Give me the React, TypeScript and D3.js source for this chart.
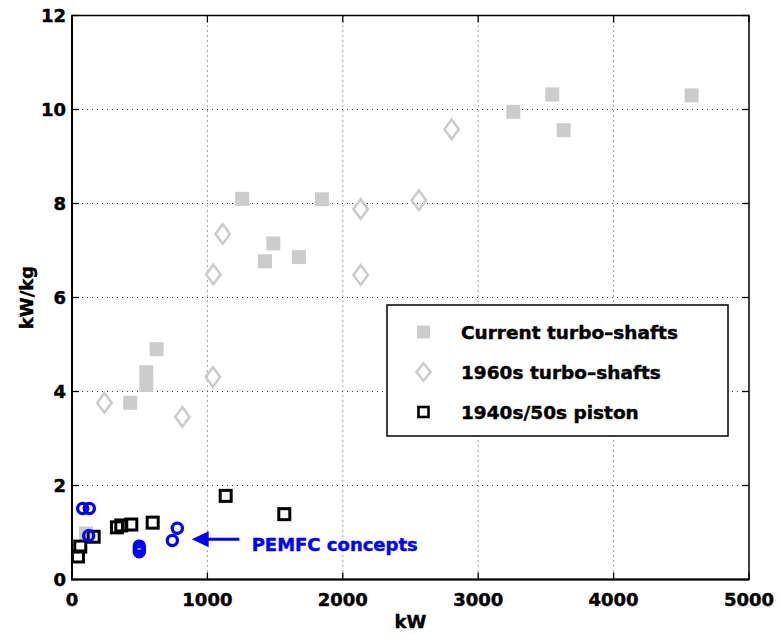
import { useEffect, useRef } from 'react'
import * as d3 from 'd3'

// [kW, kW/kg]
const currentTurboShafts: [number, number][] = [
    [103, 0.98], [430, 3.76], [549, 4.14], [549, 4.41], [625, 4.9],
    [1257, 8.1], [1425, 6.77], [1487, 7.15], [1676, 6.86], [1846, 8.09],
    [3259, 9.95], [3547, 10.32], [3631, 9.56], [4576, 10.3]
]
const turboShafts1960s: [number, number][] = [
    [239, 3.76], [815, 3.46], [1041, 4.31], [1044, 6.49], [1113, 7.35],
    [2132, 7.88], [2132, 6.48], [2562, 8.07], [2804, 9.58]
]
const piston1940s: [number, number][] = [
    [44, 0.49], [61, 0.7], [160, 0.91], [332, 1.11], [364, 1.15],
    [438, 1.17], [596, 1.21], [1135, 1.78], [1568, 1.39]
]
const pemfcConcepts: [number, number][] = [
    [79, 1.51], [128, 1.51], [123, 0.93], [497, 0.71], [497, 0.65],
    [497, 0.59], [741, 0.83], [778, 1.09]
]
const xTicks = [0, 1000, 2000, 3000, 4000, 5000]
const yTicks = [0, 2, 4, 6, 8, 10, 12]
const legendLabels = ['Current turbo\u2013shafts', '1960s turbo\u2013shafts', '1940s/50s piston']
// annotation: arrow from/to and label position, data units
const arrowFrom: [number, number] = [1236, 0.855]
const arrowTo: [number, number] = [884, 0.855]
const pemfcLabel = { text: 'PEMFC concepts', x: 1327, y: 0.61 }

const W = 779
const H = 634
const FONT = '"DejaVu Sans", sans-serif'

export default function App() {
    const svgRef = useRef<SVGSVGElement>(null)

    useEffect(() => {
        if (!svgRef.current) return
        const svg = d3.select(svgRef.current)
        svg.selectAll('*').remove()

        const left = 72, right = 749, top = 15.5, bottom = 579.5
        const x = d3.scaleLinear().domain([0, 5000]).range([left, right])
        const y = d3.scaleLinear().domain([0, 12]).range([bottom, top])

        svg.append('rect').attr('width', W).attr('height', H).attr('fill', 'white')

        // bold text, a bit heavier like the original renderer
        const label = (g: d3.Selection<any, any, any, any>, color = 'black') =>
            g.style('font-family', FONT).style('font-weight', 'bold').style('font-size', '18px')
                .attr('fill', color).attr('stroke', color).attr('stroke-width', 0.45)

        // grid
        const grid = svg.append('g')
            .attr('stroke', '#444')
            .attr('stroke-width', 1)
            .attr('stroke-dasharray', '1,4')
        grid.selectAll('.gx')
            .data(xTicks.slice(1, -1))
            .enter()
            .append('line')
            .attr('x1', d => x(d)).attr('x2', d => x(d))
            .attr('y1', top).attr('y2', bottom)
        grid.selectAll('.gy')
            .data(yTicks.slice(1, -1))
            .enter()
            .append('line')
            .attr('x1', left).attr('x2', right)
            .attr('y1', d => y(d)).attr('y2', d => y(d))

        // ticks (inside, all four sides)
        const ticks = svg.append('g').attr('stroke', 'black').attr('stroke-width', 1.3)
        xTicks.forEach(t => {
            ticks.append('line').attr('x1', x(t)).attr('x2', x(t)).attr('y1', bottom).attr('y2', bottom - 7)
            ticks.append('line').attr('x1', x(t)).attr('x2', x(t)).attr('y1', top).attr('y2', top + 7)
        })
        yTicks.forEach(t => {
            ticks.append('line').attr('x1', left).attr('x2', left + 7).attr('y1', y(t)).attr('y2', y(t))
            ticks.append('line').attr('x1', right).attr('x2', right - 7).attr('y1', y(t)).attr('y2', y(t))
        })

        // box
        svg.append('rect')
            .attr('x', left).attr('y', top)
            .attr('width', right - left).attr('height', bottom - top)
            .attr('fill', 'none').attr('stroke', 'black').attr('stroke-width', 1.5)
        svg.append('path')
            .attr('d', `M${left},${top}V${bottom}H${right}`)
            .attr('fill', 'none').attr('stroke', 'black').attr('stroke-width', 2)

        // tick labels
        label(svg.append('g')).selectAll('text')
            .data(xTicks)
            .enter()
            .append('text')
            .attr('x', d => x(d))
            .attr('y', bottom + 26)
            .attr('text-anchor', 'middle')
            .text(d => d)
        label(svg.append('g')).selectAll('text')
            .data(yTicks)
            .enter()
            .append('text')
            .attr('x', left - 6)
            .attr('y', d => y(d) + 6.5)
            .attr('text-anchor', 'end')
            .text(d => d)

        // axis titles
        label(svg.append('text'))
            .attr('x', (left + right) / 2).attr('y', 628)
            .attr('text-anchor', 'middle')
            .text('kW')
        label(svg.append('text'))
            .attr('transform', `translate(33, ${(top + bottom) / 2}) rotate(-90)`)
            .attr('text-anchor', 'middle')
            .text('kW/kg')

        const diamond = (cx: number, cy: number, w: number, h: number) =>
            `M${cx},${cy - h / 2}L${cx + w / 2},${cy}L${cx},${cy + h / 2}L${cx - w / 2},${cy}Z`

        // current turbo-shafts: filled grey squares
        svg.append('g').selectAll('rect')
            .data(currentTurboShafts)
            .enter()
            .append('rect')
            .attr('x', d => x(d[0]) - 7).attr('y', d => y(d[1]) - 7)
            .attr('width', 14).attr('height', 14)
            .attr('fill', '#cccccc')

        // 1960s turbo-shafts: hollow diamonds
        svg.append('g').selectAll('path')
            .data(turboShafts1960s)
            .enter()
            .append('path')
            .attr('d', d => diamond(x(d[0]), y(d[1]), 14.5, 19.5))
            .attr('fill', 'none').attr('stroke', '#cccccc').attr('stroke-width', 2.6)

        // 1940s/50s piston: hollow black squares
        svg.append('g').selectAll('rect')
            .data(piston1940s)
            .enter()
            .append('rect')
            .attr('x', d => x(d[0]) - 5.5).attr('y', d => y(d[1]) - 5.5)
            .attr('width', 11).attr('height', 11)
            .attr('fill', 'none').attr('stroke', 'black').attr('stroke-width', 3)

        // PEMFC concepts: blue circles
        svg.append('g').selectAll('circle')
            .data(pemfcConcepts)
            .enter()
            .append('circle')
            .attr('cx', d => x(d[0])).attr('cy', d => y(d[1]))
            .attr('r', 5.1)
            .attr('fill', 'none').attr('stroke', '#0000ff').attr('stroke-width', 3.3)

        // arrow annotation
        const ax0 = x(arrowFrom[0]), ay = y(arrowFrom[1]), ax1 = x(arrowTo[0])
        svg.append('line')
            .attr('x1', ax0).attr('x2', ax1 + 12).attr('y1', ay).attr('y2', ay)
            .attr('stroke', '#0000ff').attr('stroke-width', 3)
        svg.append('path')
            .attr('d', `M${ax1},${ay}L${ax1 + 17},${ay - 8}L${ax1 + 17},${ay + 8}Z`)
            .attr('fill', '#0000ff')
        label(svg.append('text'), '#0000ff')
            .attr('x', x(pemfcLabel.x)).attr('y', y(pemfcLabel.y))
            .text(pemfcLabel.text)

        // legend
        const lg = svg.append('g')
        lg.append('rect')
            .attr('x', 387).attr('y', 305).attr('width', 341).attr('height', 131)
            .attr('fill', 'white').attr('stroke', 'black').attr('stroke-width', 1.5)
        const rows = [332, 372, 412]
        lg.append('rect').attr('x', 417).attr('y', rows[0] - 6.5).attr('width', 13).attr('height', 13).attr('fill', '#cccccc')
        lg.append('path').attr('d', diamond(423.5, rows[1], 14, 17.5))
            .attr('fill', 'none').attr('stroke', '#cccccc').attr('stroke-width', 2.6)
        lg.append('rect').attr('x', 418.5).attr('y', rows[2] - 5).attr('width', 10).attr('height', 10)
            .attr('fill', 'none').attr('stroke', 'black').attr('stroke-width', 2.6)
        label(lg.append('g')).style('font-size', '18.5px').selectAll('text')
            .data(legendLabels)
            .enter()
            .append('text')
            .attr('x', 461)
            .attr('y', (d, i) => rows[i] + 7)
            .text(d => d)
    }, [])

    return (
        <svg ref={svgRef} width={W} height={H}
            style={{ position: 'absolute', left: 0, top: 0, display: 'block' }}></svg>
    )
}
